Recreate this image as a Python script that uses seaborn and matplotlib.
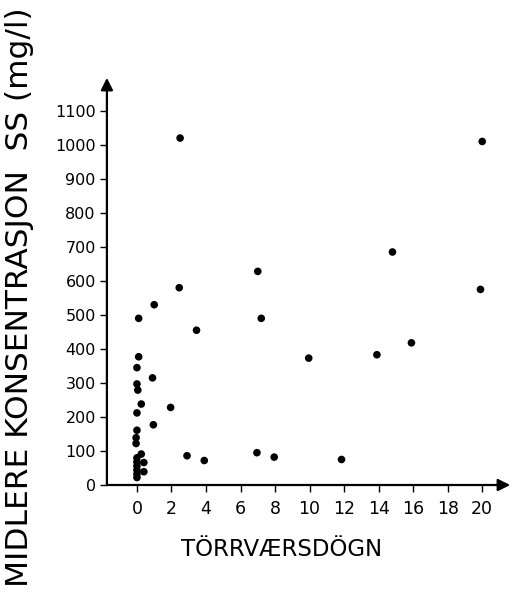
import matplotlib
matplotlib.use("Agg")
import matplotlib.pyplot as plt
import seaborn as sns
import pandas as pd

sns.set_theme(style="white")
plt.rcParams["font.family"] = ["DejaVu Sans"]
plt.rcParams.update({"text.color": "black", "axes.labelcolor": "black",
                     "xtick.color": "black", "ytick.color": "black"})

# dry-weather days vs mean SS concentration (mg/l)
dry_days = [2.5, 20.0, 14.8, 7.0, 19.9, 2.45, 1.0, 0.1, 7.2, 3.45,
            15.9, 13.9, 9.95, 0.1, 0.0, 0.9, 0.0, 0.05, 0.25, 1.95,
            0.0, 0.95, 0.0, -0.05, -0.05, 0.25, 6.95, 2.9, 7.95, 11.85,
            3.9, 0.4, 0.4, 0.0, 0.0, 0.0, 0.0, 0.0, 0.0]
ss_conc = [1020, 1010, 685, 628, 575, 580, 530, 490, 490, 455,
           418, 383, 373, 377, 345, 315, 297, 279, 238, 228,
           212, 177, 161, 139, 122, 91, 95, 86, 82, 75,
           72, 66, 39, 80, 68, 56, 44, 32, 22]

x_ticks = list(range(0, 21, 2))
y_ticks = list(range(0, 1101, 100))

df = pd.DataFrame({"days": dry_days, "ss": ss_conc})

fig = plt.figure(figsize=(5.19, 5.94), dpi=100)
ax = fig.add_axes([0.206, 0.1835, 0.777, 0.682])

sns.scatterplot(data=df, x="days", y="ss", color="black", s=30,
                edgecolor="none", ax=ax, clip_on=False)

ax.set_xlim(-1.74, 21.62)
ax.set_ylim(0, 1191)
ax.set_xticks(x_ticks)
ax.set_yticks(y_ticks)
for s in ax.spines.values():
    s.set_visible(False)

# axes drawn as arrows
arrow = dict(arrowstyle="-|>", color="black", lw=1.6, mutation_scale=18,
             shrinkA=0, shrinkB=0)
ax.annotate("", xy=(0, 1.005), xytext=(0, 0), xycoords="axes fraction",
            arrowprops=arrow, annotation_clip=False)
ax.annotate("", xy=(1, 0), xytext=(0, 0), xycoords="axes fraction",
            arrowprops=arrow, annotation_clip=False)

ax.tick_params(axis="both", direction="out", length=5, width=1,
               left=True, bottom=True)
ax.tick_params(axis="y", labelsize=11.5, pad=3)
ax.tick_params(axis="x", labelsize=12.5, pad=6)

ax.set_xlabel("TÖRRVÆRSDÖGN", fontsize=16.5)
ax.xaxis.set_label_coords(0.434, -0.13)
ax.set_ylabel("MIDLERE KONSENTRASJON  SS (mg/l)", fontsize=22.5)
ax.yaxis.set_label_coords(-0.18, 0.464)
ax.grid(False)

fig.savefig("out.png", dpi=100)
